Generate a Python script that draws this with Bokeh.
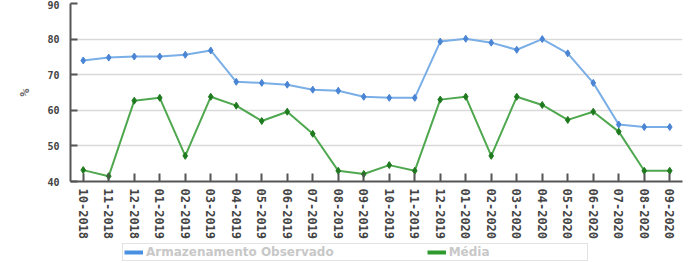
from bokeh.plotting import figure
from bokeh.models import FactorRange, Range1d, Legend, LegendItem, ColumnDataSource
from bokeh.layouts import column
from bokeh.embed import file_html
from bokeh.resources import INLINE

months = ["10-2018", "11-2018", "12-2018", "01-2019", "02-2019", "03-2019",
          "04-2019", "05-2019", "06-2019", "07-2019", "08-2019", "09-2019",
          "10-2019", "11-2019", "12-2019", "01-2020", "02-2020", "03-2020",
          "04-2020", "05-2020", "06-2020", "07-2020", "08-2020", "09-2020"]
observado = [74.0, 74.8, 75.1, 75.1, 75.6, 76.8, 68.0, 67.7, 67.2, 65.8, 65.5, 63.8,
             63.5, 63.5, 79.3, 80.1, 79.0, 77.0, 80.0, 76.0, 67.7, 56.0, 55.3, 55.3]
media = [43.2, 41.5, 62.7, 63.5, 47.2, 63.8, 61.3, 57.0, 59.6, 53.4, 43.0, 42.1,
         44.6, 43.0, 63.0, 63.8, 47.2, 63.8, 61.5, 57.3, 59.6, 54.0, 43.0, 43.0]
y_ticks = [40, 50, 60, 70, 80, 90]
label_obs = "Armazenamento Observado"
label_med = "Média"

source = ColumnDataSource(dict(m=months, obs=observado, med=media))

p = figure(width=690, height=243, x_range=FactorRange(factors=months, range_padding=0),
           y_range=Range1d(40, 90), output_backend="svg", toolbar_location=None,
           min_border_top=3, min_border_left=70, min_border_right=8, min_border_bottom=62)
p.outline_line_color = None
p.background_fill_color = "white"
p.border_fill_color = "white"

blue_line = "#7aaee6"
blue_mark = "#4a84d4"
green_line = "#4fa84f"
green_mark = "#1f7a1f"

p.line("m", "obs", source=source, line_color=blue_line, line_width=2)
p.scatter("m", "obs", source=source, marker="diamond", size=7, fill_color=blue_mark, line_color=blue_mark)
p.line("m", "med", source=source, line_color=green_line, line_width=2)
p.scatter("m", "med", source=source, marker="diamond", size=7, fill_color=green_mark, line_color=green_mark)

p.xgrid.grid_line_color = None
p.ygrid.grid_line_color = "#d9d9d9"
p.ygrid.grid_line_width = 1.5
p.yaxis.ticker = y_ticks

for ax in (p.xaxis[0], p.yaxis[0]):
    ax.axis_line_color = "#555555"
    ax.axis_line_width = 2
    ax.major_tick_line_color = "#555555"
    ax.major_tick_line_width = 2
    ax.major_tick_out = 0
    ax.minor_tick_out = 0
    ax.minor_tick_in = 0
    ax.major_label_text_font = "DejaVu Sans Mono"
    ax.major_label_text_font_style = "bold"
    ax.major_label_text_color = "#444444"

p.yaxis.major_tick_in = 7
p.yaxis.major_label_text_font_size = "10px"
p.yaxis.major_label_standoff = 11
p.yaxis.axis_label = "%"
p.yaxis.axis_label_text_font = "DejaVu Sans Mono"
p.yaxis.axis_label_text_font_size = "13px"
p.yaxis.axis_label_text_font_style = "bold"
p.yaxis.axis_label_text_color = "#666666"
p.yaxis.axis_label_standoff = 12

p.xaxis.major_tick_in = 8
p.xaxis.major_label_orientation = "vertical"
p.xaxis.major_label_text_font_size = "12px"
p.xaxis.major_label_standoff = 7

# legend strip below the chart
nan = float("nan")
pl = figure(width=690, height=20, x_range=Range1d(0, 1), y_range=Range1d(0, 1),
            output_backend="svg", toolbar_location=None,
            min_border=0, min_border_left=0, min_border_right=0,
            min_border_top=0, min_border_bottom=0)
pl.axis.visible = False
pl.grid.visible = False
pl.outline_line_color = None
lg1 = pl.line(x=[nan, nan], y=[nan, nan], line_color="#4a90e2", line_width=4)
lg2 = pl.line(x=[nan, nan], y=[nan, nan], line_color="#2e9a2e", line_width=4)

legend = Legend(items=[LegendItem(label=label_obs, renderers=[lg1]),
                       LegendItem(label=label_med, renderers=[lg2])],
                orientation="horizontal", location=(52, 2),
                label_text_font="DejaVu Sans", label_text_font_style="bold",
                label_text_font_size="12px", label_text_color="#c8c8c8",
                glyph_width=19, glyph_height=10, label_standoff=3, label_width=137,
                label_height=10, spacing=93, padding=1, margin=0,
                border_line_color="#c8c8c8", border_line_width=1,
                background_fill_alpha=1)
pl.add_layout(legend, "center")

layout = column(p, pl, spacing=0)
open("out.html", "w").write(file_html(layout, INLINE))
